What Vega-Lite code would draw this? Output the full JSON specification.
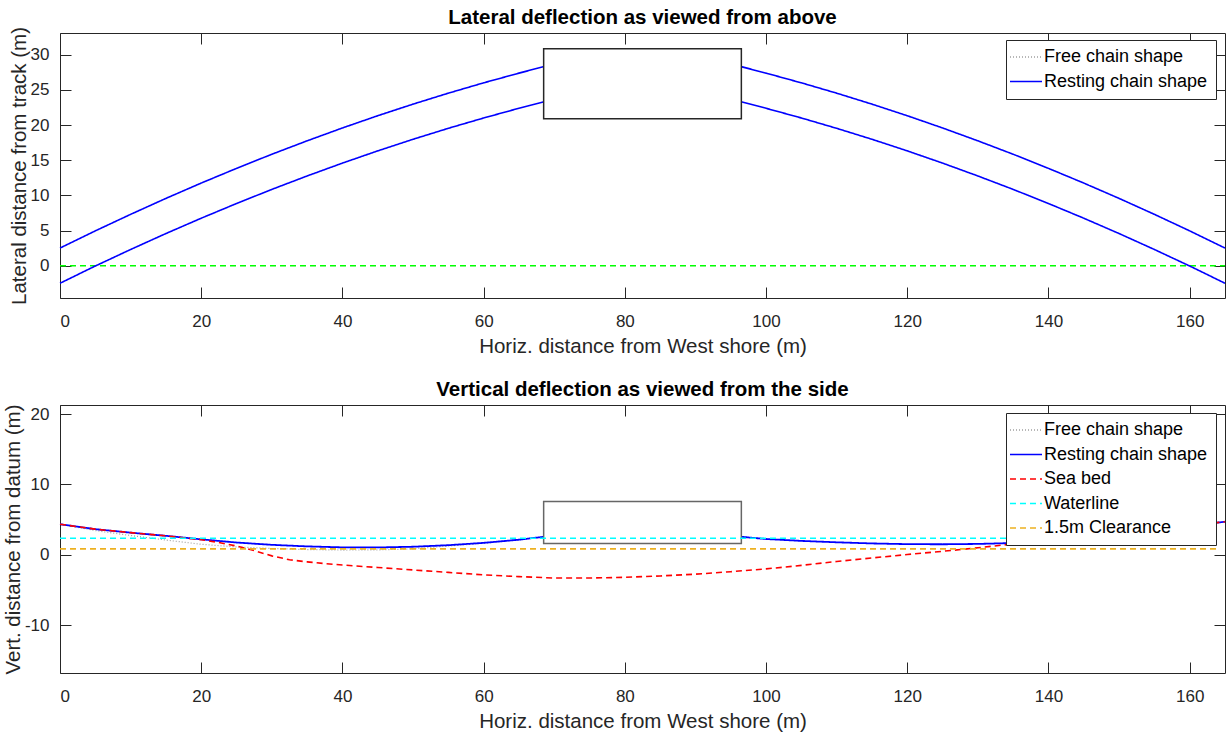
{
  "$schema": "https://vega.github.io/schema/vega-lite/v6.json",
  "autosize": {"type": "pad"},
  "padding": {"left": 2, "top": 7, "right": 2, "bottom": 5},
  "background": "white",
  "bounds": "flush",
  "spacing": 107,
  "config": {
    "font": "Liberation Sans",
    "view": {"stroke": "#262626", "strokeWidth": 1},
    "axis": {"domain": false, "grid": false, "tickColor": "#262626", "tickSize": -11, "tickWidth": 1, "labelColor": "#262626", "labelFont": "Liberation Sans", "labelFontSize": 17, "titleFont": "Liberation Sans", "titleFontSize": 20.5, "titleFontWeight": "normal", "titleColor": "#262626", "labelExpr": "'' + datum.value"},
    "title": {"font": "Liberation Sans", "fontSize": 20.5, "fontWeight": "bold", "color": "#000000", "anchor": "middle", "offset": -2, "baseline": "alphabetic", "frame": "group"},
    "legend": {"orient": "none", "fillColor": "white", "strokeColor": "#262626", "strokeWidth": 1, "padding": 8, "symbolType": "M-2,0H2", "symbolSize": 256, "symbolStrokeWidth": 1.5, "symbolOffset": 3, "labelOffset": 9, "labelFont": "Liberation Sans", "labelFontSize": 18, "labelLimit": 400, "labelColor": "#000000", "rowPadding": 6.5, "cornerRadius": 0}
  },
  "datasets": {
    "top": [
      {"s": "Resting chain shape", "p": "U", "x": 0, "y": 2.5},
      {"s": "Resting chain shape", "p": "U", "x": 5, "y": 4.95},
      {"s": "Resting chain shape", "p": "U", "x": 10, "y": 7.3},
      {"s": "Resting chain shape", "p": "U", "x": 15, "y": 9.57},
      {"s": "Resting chain shape", "p": "U", "x": 20, "y": 11.75},
      {"s": "Resting chain shape", "p": "U", "x": 25, "y": 13.84},
      {"s": "Resting chain shape", "p": "U", "x": 30, "y": 15.85},
      {"s": "Resting chain shape", "p": "U", "x": 35, "y": 17.76},
      {"s": "Resting chain shape", "p": "U", "x": 40, "y": 19.59},
      {"s": "Resting chain shape", "p": "U", "x": 45, "y": 21.33},
      {"s": "Resting chain shape", "p": "U", "x": 50, "y": 22.98},
      {"s": "Resting chain shape", "p": "U", "x": 55, "y": 24.54},
      {"s": "Resting chain shape", "p": "U", "x": 60, "y": 26.01},
      {"s": "Resting chain shape", "p": "U", "x": 65, "y": 27.39},
      {"s": "Resting chain shape", "p": "U", "x": 68.5, "y": 28.31},
      {"s": "Resting chain shape", "p": "U", "x": 96.5, "y": 28.31},
      {"s": "Resting chain shape", "p": "U", "x": 100, "y": 27.39},
      {"s": "Resting chain shape", "p": "U", "x": 105, "y": 26.01},
      {"s": "Resting chain shape", "p": "U", "x": 110, "y": 24.54},
      {"s": "Resting chain shape", "p": "U", "x": 115, "y": 22.98},
      {"s": "Resting chain shape", "p": "U", "x": 120, "y": 21.33},
      {"s": "Resting chain shape", "p": "U", "x": 125, "y": 19.59},
      {"s": "Resting chain shape", "p": "U", "x": 130, "y": 17.76},
      {"s": "Resting chain shape", "p": "U", "x": 135, "y": 15.85},
      {"s": "Resting chain shape", "p": "U", "x": 140, "y": 13.84},
      {"s": "Resting chain shape", "p": "U", "x": 145, "y": 11.75},
      {"s": "Resting chain shape", "p": "U", "x": 150, "y": 9.57},
      {"s": "Resting chain shape", "p": "U", "x": 155, "y": 7.3},
      {"s": "Resting chain shape", "p": "U", "x": 160, "y": 4.95},
      {"s": "Resting chain shape", "p": "U", "x": 165, "y": 2.5},
      {"s": "Resting chain shape", "p": "L", "x": 0, "y": -2.5},
      {"s": "Resting chain shape", "p": "L", "x": 5, "y": -0.05},
      {"s": "Resting chain shape", "p": "L", "x": 10, "y": 2.3},
      {"s": "Resting chain shape", "p": "L", "x": 15, "y": 4.57},
      {"s": "Resting chain shape", "p": "L", "x": 20, "y": 6.75},
      {"s": "Resting chain shape", "p": "L", "x": 25, "y": 8.84},
      {"s": "Resting chain shape", "p": "L", "x": 30, "y": 10.85},
      {"s": "Resting chain shape", "p": "L", "x": 35, "y": 12.76},
      {"s": "Resting chain shape", "p": "L", "x": 40, "y": 14.59},
      {"s": "Resting chain shape", "p": "L", "x": 45, "y": 16.33},
      {"s": "Resting chain shape", "p": "L", "x": 50, "y": 17.98},
      {"s": "Resting chain shape", "p": "L", "x": 55, "y": 19.54},
      {"s": "Resting chain shape", "p": "L", "x": 60, "y": 21.01},
      {"s": "Resting chain shape", "p": "L", "x": 65, "y": 22.39},
      {"s": "Resting chain shape", "p": "L", "x": 68.5, "y": 23.31},
      {"s": "Resting chain shape", "p": "L", "x": 96.5, "y": 23.31},
      {"s": "Resting chain shape", "p": "L", "x": 100, "y": 22.39},
      {"s": "Resting chain shape", "p": "L", "x": 105, "y": 21.01},
      {"s": "Resting chain shape", "p": "L", "x": 110, "y": 19.54},
      {"s": "Resting chain shape", "p": "L", "x": 115, "y": 17.98},
      {"s": "Resting chain shape", "p": "L", "x": 120, "y": 16.33},
      {"s": "Resting chain shape", "p": "L", "x": 125, "y": 14.59},
      {"s": "Resting chain shape", "p": "L", "x": 130, "y": 12.76},
      {"s": "Resting chain shape", "p": "L", "x": 135, "y": 10.85},
      {"s": "Resting chain shape", "p": "L", "x": 140, "y": 8.84},
      {"s": "Resting chain shape", "p": "L", "x": 145, "y": 6.75},
      {"s": "Resting chain shape", "p": "L", "x": 150, "y": 4.57},
      {"s": "Resting chain shape", "p": "L", "x": 155, "y": 2.3},
      {"s": "Resting chain shape", "p": "L", "x": 160, "y": -0.05},
      {"s": "Resting chain shape", "p": "L", "x": 165, "y": -2.5}
    ],
    "track": [{"x": 0, "y": 0}, {"x": 165, "y": 0}],
    "topBox": [{"x1": 68.5, "x2": 96.5, "y1": 20.9, "y2": 30.85}],
    "bottomBox": [{"x1": 68.5, "x2": 96.5, "y1": 1.6, "y2": 7.57}],
    "side": [
      {"s": "Free chain shape", "x": 0, "y": 4.35},
      {"s": "Free chain shape", "x": 5, "y": 3.45},
      {"s": "Free chain shape", "x": 10, "y": 2.75},
      {"s": "Free chain shape", "x": 15, "y": 2.1},
      {"s": "Free chain shape", "x": 20, "y": 1.5},
      {"s": "Free chain shape", "x": 25, "y": 1.12},
      {"s": "Free chain shape", "x": 30, "y": 0.9},
      {"s": "Free chain shape", "x": 35, "y": 0.75},
      {"s": "Free chain shape", "x": 40, "y": 0.68},
      {"s": "Free chain shape", "x": 45, "y": 0.7},
      {"s": "Free chain shape", "x": 50, "y": 0.85},
      {"s": "Free chain shape", "x": 55, "y": 1.25},
      {"s": "Free chain shape", "x": 60, "y": 1.65},
      {"s": "Free chain shape", "x": 65, "y": 2.15},
      {"s": "Free chain shape", "x": 68.5, "y": 2.56},
      {"s": "Resting chain shape", "x": 0, "y": 4.35},
      {"s": "Resting chain shape", "x": 5, "y": 3.65},
      {"s": "Resting chain shape", "x": 10, "y": 3.15},
      {"s": "Resting chain shape", "x": 15, "y": 2.7},
      {"s": "Resting chain shape", "x": 20, "y": 2.2},
      {"s": "Resting chain shape", "x": 25, "y": 1.75},
      {"s": "Resting chain shape", "x": 30, "y": 1.42},
      {"s": "Resting chain shape", "x": 35, "y": 1.2},
      {"s": "Resting chain shape", "x": 40, "y": 1.06},
      {"s": "Resting chain shape", "x": 45, "y": 1.05},
      {"s": "Resting chain shape", "x": 50, "y": 1.15},
      {"s": "Resting chain shape", "x": 55, "y": 1.37},
      {"s": "Resting chain shape", "x": 60, "y": 1.7},
      {"s": "Resting chain shape", "x": 65, "y": 2.15},
      {"s": "Resting chain shape", "x": 68.5, "y": 2.56},
      {"s": "Resting chain shape", "x": 96.5, "y": 2.56},
      {"s": "Resting chain shape", "x": 100, "y": 2.25},
      {"s": "Resting chain shape", "x": 105, "y": 1.98},
      {"s": "Resting chain shape", "x": 110, "y": 1.78},
      {"s": "Resting chain shape", "x": 115, "y": 1.62},
      {"s": "Resting chain shape", "x": 120, "y": 1.52},
      {"s": "Resting chain shape", "x": 125, "y": 1.5},
      {"s": "Resting chain shape", "x": 130, "y": 1.55},
      {"s": "Resting chain shape", "x": 135, "y": 1.68},
      {"s": "Resting chain shape", "x": 140, "y": 1.95},
      {"s": "Resting chain shape", "x": 143, "y": 2.4},
      {"s": "Resting chain shape", "x": 145, "y": 2.6},
      {"s": "Resting chain shape", "x": 150, "y": 3.1},
      {"s": "Resting chain shape", "x": 155, "y": 3.65},
      {"s": "Resting chain shape", "x": 160, "y": 4.15},
      {"s": "Resting chain shape", "x": 165, "y": 4.7},
      {"s": "Sea bed", "x": 0, "y": 4.35},
      {"s": "Sea bed", "x": 5, "y": 3.65},
      {"s": "Sea bed", "x": 10, "y": 3.15},
      {"s": "Sea bed", "x": 15, "y": 2.7},
      {"s": "Sea bed", "x": 20, "y": 2.15},
      {"s": "Sea bed", "x": 22.5, "y": 1.75},
      {"s": "Sea bed", "x": 25, "y": 1.25},
      {"s": "Sea bed", "x": 27.5, "y": 0.6},
      {"s": "Sea bed", "x": 30, "y": -0.15},
      {"s": "Sea bed", "x": 32.5, "y": -0.7},
      {"s": "Sea bed", "x": 35, "y": -1.0},
      {"s": "Sea bed", "x": 37.5, "y": -1.25},
      {"s": "Sea bed", "x": 40, "y": -1.45},
      {"s": "Sea bed", "x": 45, "y": -1.8},
      {"s": "Sea bed", "x": 50, "y": -2.15},
      {"s": "Sea bed", "x": 55, "y": -2.5},
      {"s": "Sea bed", "x": 60, "y": -2.85},
      {"s": "Sea bed", "x": 65, "y": -3.1},
      {"s": "Sea bed", "x": 70, "y": -3.3},
      {"s": "Sea bed", "x": 75, "y": -3.3},
      {"s": "Sea bed", "x": 80, "y": -3.2},
      {"s": "Sea bed", "x": 85, "y": -3.0},
      {"s": "Sea bed", "x": 90, "y": -2.75},
      {"s": "Sea bed", "x": 95, "y": -2.4},
      {"s": "Sea bed", "x": 100, "y": -2.0},
      {"s": "Sea bed", "x": 105, "y": -1.5},
      {"s": "Sea bed", "x": 110, "y": -0.95},
      {"s": "Sea bed", "x": 115, "y": -0.45},
      {"s": "Sea bed", "x": 120, "y": 0.05},
      {"s": "Sea bed", "x": 125, "y": 0.5},
      {"s": "Sea bed", "x": 130, "y": 1.0},
      {"s": "Sea bed", "x": 135, "y": 1.55},
      {"s": "Sea bed", "x": 140, "y": 2.1},
      {"s": "Sea bed", "x": 145, "y": 2.6},
      {"s": "Sea bed", "x": 150, "y": 3.1},
      {"s": "Sea bed", "x": 155, "y": 3.65},
      {"s": "Sea bed", "x": 160, "y": 4.15},
      {"s": "Sea bed", "x": 165, "y": 4.7},
      {"s": "Waterline", "x": 0, "y": 2.35},
      {"s": "Waterline", "x": 164, "y": 2.35},
      {"s": "1.5m Clearance", "x": 0, "y": 0.85},
      {"s": "1.5m Clearance", "x": 164, "y": 0.85}
    ]
  },
  "resolve": {
    "scale": {"x": "independent", "y": "independent", "color": "independent", "strokeDash": "independent"},
    "legend": {"color": "independent", "strokeDash": "independent"}
  },
  "vconcat": [
    {
      "width": 1165,
      "height": 265,
      "title": {"text": "Lateral deflection as viewed from above"},
      "resolve": {"axis": {"x": "independent", "y": "independent"}},
      "layer": [
        {
          "data": {"name": "track"},
          "mark": {"type": "line", "color": "#00ff00", "strokeWidth": 1.5, "strokeDash": [6, 4]},
          "encoding": {
            "x": {"field": "x", "type": "quantitative", "scale": {"domain": [0, 165], "nice": false, "zero": false},
                  "axis": {"orient": "bottom", "values": [0, 20, 40, 60, 80, 100, 120, 140, 160], "title": "Horiz. distance from West shore (m)", "labelPadding": 26, "titlePadding": 7}},
            "y": {"field": "y", "type": "quantitative", "scale": {"domain": [-4.6, 33.1], "nice": false, "zero": false},
                  "axis": {"orient": "left", "values": [0, 5, 10, 15, 20, 25, 30], "title": "Lateral distance from track (m)", "labelPadding": 22, "titlePadding": 1}}
          }
        },
        {
          "data": {"name": "top"},
          "mark": {"type": "line", "strokeWidth": 1.6},
          "encoding": {
            "x": {"field": "x", "type": "quantitative", "scale": {"domain": [0, 165], "nice": false, "zero": false}, "axis": null},
            "y": {"field": "y", "type": "quantitative", "scale": {"domain": [-4.6, 33.1], "nice": false, "zero": false}, "axis": null},
            "detail": {"field": "p"},
            "color": {"field": "s", "type": "nominal", "scale": {"domain": ["Free chain shape", "Resting chain shape"], "range": ["#a0a0a0", "#0000ff"]}, "legend": {"title": null, "legendX": 946, "legendY": 7}},
            "strokeDash": {"field": "s", "type": "nominal", "scale": {"domain": ["Free chain shape", "Resting chain shape"], "range": [[1, 2], [1, 0]]}, "legend": {"title": null, "legendX": 946, "legendY": 7}}
          }
        },
        {
          "data": {"name": "topBox"},
          "mark": {"type": "rect", "fill": "white", "stroke": "#262626", "strokeWidth": 1.5},
          "encoding": {
            "x": {"field": "x1", "type": "quantitative", "scale": {"domain": [0, 165], "nice": false, "zero": false},
                  "axis": {"orient": "top", "values": [0, 20, 40, 60, 80, 100, 120, 140, 160], "labels": false, "title": null}},
            "x2": {"field": "x2"},
            "y": {"field": "y1", "type": "quantitative", "scale": {"domain": [-4.6, 33.1], "nice": false, "zero": false},
                  "axis": {"orient": "right", "values": [0, 5, 10, 15, 20, 25, 30], "labels": false, "title": null}},
            "y2": {"field": "y2"}
          }
        }
      ]
    },
    {
      "width": 1165,
      "height": 268,
      "title": {"text": "Vertical deflection as viewed from the side", "offset": 3},
      "resolve": {"axis": {"x": "independent", "y": "independent"}},
      "layer": [
        {
          "data": {"name": "side"},
          "transform": [{"filter": {"field": "s", "equal": "Free chain shape"}}],
          "mark": {"type": "line", "strokeWidth": 1.2},
          "encoding": {
            "x": {"field": "x", "type": "quantitative", "scale": {"domain": [0, 165], "nice": false, "zero": false},
                  "axis": {"orient": "bottom", "values": [0, 20, 40, 60, 80, 100, 120, 140, 160], "title": "Horiz. distance from West shore (m)", "labelPadding": 26, "titlePadding": 7}},
            "y": {"field": "y", "type": "quantitative", "scale": {"domain": [-16.8, 21.3], "nice": false, "zero": false},
                  "axis": {"orient": "left", "values": [-10, 0, 10, 20], "title": "Vert. distance from datum (m)", "labelPadding": 22, "titlePadding": 1}},
            "color": {"field": "s", "type": "nominal", "scale": {"domain": ["Free chain shape", "Resting chain shape", "Sea bed", "Waterline", "1.5m Clearance"], "range": ["#a0a0a0", "#0000ff", "#ff0000", "#00ffff", "#edb120"]}, "legend": {"title": null, "legendX": 946, "legendY": 8}},
            "strokeDash": {"field": "s", "type": "nominal", "scale": {"domain": ["Free chain shape", "Resting chain shape", "Sea bed", "Waterline", "1.5m Clearance"], "range": [[1, 2], [1, 0], [6, 4], [6, 4], [6, 4]]}, "legend": {"title": null, "legendX": 946, "legendY": 8}}
          }
        },
        {
          "data": {"name": "side"},
          "transform": [{"filter": {"field": "s", "equal": "Resting chain shape"}}],
          "mark": {"type": "line", "strokeWidth": 1.8},
          "encoding": {
            "x": {"field": "x", "type": "quantitative", "scale": {"domain": [0, 165], "nice": false, "zero": false}, "axis": null},
            "y": {"field": "y", "type": "quantitative", "scale": {"domain": [-16.8, 21.3], "nice": false, "zero": false}, "axis": null},
            "color": {"field": "s", "type": "nominal", "scale": {"domain": ["Free chain shape", "Resting chain shape", "Sea bed", "Waterline", "1.5m Clearance"], "range": ["#a0a0a0", "#0000ff", "#ff0000", "#00ffff", "#edb120"]}, "legend": {"title": null, "legendX": 946, "legendY": 8}},
            "strokeDash": {"field": "s", "type": "nominal", "scale": {"domain": ["Free chain shape", "Resting chain shape", "Sea bed", "Waterline", "1.5m Clearance"], "range": [[1, 2], [1, 0], [6, 4], [6, 4], [6, 4]]}, "legend": {"title": null, "legendX": 946, "legendY": 8}}
          }
        },
        {
          "data": {"name": "side"},
          "transform": [{"filter": {"field": "s", "equal": "Sea bed"}}],
          "mark": {"type": "line", "strokeWidth": 1.6},
          "encoding": {
            "x": {"field": "x", "type": "quantitative", "scale": {"domain": [0, 165], "nice": false, "zero": false}, "axis": null},
            "y": {"field": "y", "type": "quantitative", "scale": {"domain": [-16.8, 21.3], "nice": false, "zero": false}, "axis": null},
            "color": {"field": "s", "type": "nominal", "scale": {"domain": ["Free chain shape", "Resting chain shape", "Sea bed", "Waterline", "1.5m Clearance"], "range": ["#a0a0a0", "#0000ff", "#ff0000", "#00ffff", "#edb120"]}, "legend": {"title": null, "legendX": 946, "legendY": 8}},
            "strokeDash": {"field": "s", "type": "nominal", "scale": {"domain": ["Free chain shape", "Resting chain shape", "Sea bed", "Waterline", "1.5m Clearance"], "range": [[1, 2], [1, 0], [6, 4], [6, 4], [6, 4]]}, "legend": {"title": null, "legendX": 946, "legendY": 8}}
          }
        },
        {
          "data": {"name": "bottomBox"},
          "mark": {"type": "rect", "fill": "white", "stroke": "#666666", "strokeWidth": 1.5},
          "encoding": {
            "x": {"field": "x1", "type": "quantitative", "scale": {"domain": [0, 165], "nice": false, "zero": false},
                  "axis": {"orient": "top", "values": [0, 20, 40, 60, 80, 100, 120, 140, 160], "labels": false, "title": null}},
            "x2": {"field": "x2"},
            "y": {"field": "y1", "type": "quantitative", "scale": {"domain": [-16.8, 21.3], "nice": false, "zero": false},
                  "axis": {"orient": "right", "values": [-10, 0, 10, 20], "labels": false, "title": null}},
            "y2": {"field": "y2"}
          }
        },
        {
          "data": {"name": "side"},
          "transform": [{"filter": {"field": "s", "oneOf": ["Waterline", "1.5m Clearance"]}}],
          "mark": {"type": "line", "strokeWidth": 1.6},
          "encoding": {
            "x": {"field": "x", "type": "quantitative", "scale": {"domain": [0, 165], "nice": false, "zero": false}, "axis": null},
            "y": {"field": "y", "type": "quantitative", "scale": {"domain": [-16.8, 21.3], "nice": false, "zero": false}, "axis": null},
            "color": {"field": "s", "type": "nominal", "scale": {"domain": ["Free chain shape", "Resting chain shape", "Sea bed", "Waterline", "1.5m Clearance"], "range": ["#a0a0a0", "#0000ff", "#ff0000", "#00ffff", "#edb120"]}, "legend": {"title": null, "legendX": 946, "legendY": 8}},
            "strokeDash": {"field": "s", "type": "nominal", "scale": {"domain": ["Free chain shape", "Resting chain shape", "Sea bed", "Waterline", "1.5m Clearance"], "range": [[1, 2], [1, 0], [6, 4], [6, 4], [6, 4]]}, "legend": {"title": null, "legendX": 946, "legendY": 8}}
          }
        }
      ]
    }
  ]
}
